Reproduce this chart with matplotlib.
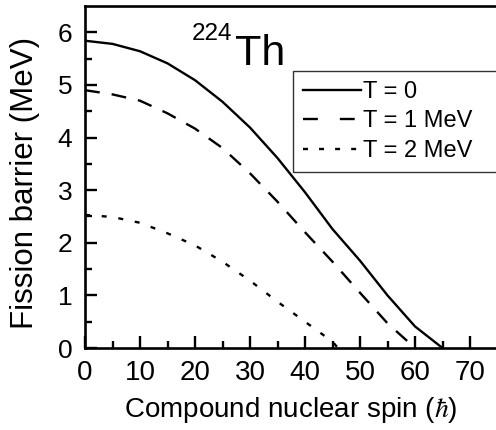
import matplotlib
matplotlib.use('Agg')
import matplotlib.pyplot as plt
from matplotlib.lines import Line2D

plt.rcParams['font.family'] = ['Liberation Sans', 'DejaVu Sans']
plt.rcParams['mathtext.fontset'] = 'stix'

# Fission barrier of 224Th vs compound nuclear spin
spin_t0 = [0, 5, 10, 15, 20, 25, 30, 35, 40, 45, 50, 55, 60, 65]
barrier_t0 = [5.84, 5.78, 5.64, 5.41, 5.09, 4.68, 4.19, 3.61, 2.96, 2.26, 1.66, 1.00, 0.41, 0.0]

spin_t1 = [0, 5, 10, 15, 20, 25, 30, 35, 40, 45, 50, 55, 60]
barrier_t1 = [4.90, 4.82, 4.70, 4.46, 4.17, 3.80, 3.32, 2.78, 2.20, 1.64, 1.05, 0.47, 0.0]

spin_t2 = [0, 5, 10, 15, 20, 25, 30, 35, 40, 45, 46]
barrier_t2 = [2.53, 2.49, 2.38, 2.18, 1.95, 1.64, 1.28, 0.88, 0.50, 0.12, 0.0]

labels = ['T = 0', 'T = 1 MeV', 'T = 2 MeV']

fig = plt.figure(figsize=(4.96, 4.30), dpi=100)
ax = fig.add_axes([85/496, 82/430, 412.5/496, 342/430])

lw = 1.7
ax.plot(spin_t0, barrier_t0, color='black', lw=lw)
ax.plot(spin_t1, barrier_t1, color='black', lw=lw, dashes=(6.3, 5.1))
ax.plot(spin_t2, barrier_t2, color='black', lw=lw, dashes=(2.1, 5.0))

ax.set_xlim(0, 75)
ax.set_ylim(0, 6.5)
ax.set_xticks(range(0, 80, 10))
ax.set_xticks(range(5, 80, 10), minor=True)
ax.set_yticks(range(0, 7))
ax.set_yticks([0.5 + i for i in range(6)], minor=True)

for s in ax.spines.values():
    s.set_linewidth(1.9)
ax.spines['right'].set_visible(False)

ax.tick_params(which='both', direction='in', width=1.7, top=False, right=False)
ax.tick_params(which='major', length=8.5)
ax.tick_params(which='minor', length=5)
ax.tick_params(axis='x', labelsize=20, pad=8.5)
ax.tick_params(axis='y', labelsize=19, pad=9)

ax.set_xlabel(r'Compound nuclear spin ($\hbar$)', fontsize=20)
ax.set_ylabel('Fission barrier (MeV)', fontsize=22.5)
ax.xaxis.set_label_coords(0.5, -0.137)
ax.yaxis.set_label_coords(-0.11, 0.484)

# nucleus label
ax.text(0.258, 0.9006, '224', fontsize=17.5, transform=ax.transAxes, ha='left', va='baseline')
ax.text(0.364, 0.8275, 'Th', fontsize=31, transform=ax.transAxes, ha='left', va='baseline')

handles = [
    Line2D([], [], color='black', lw=lw),
    Line2D([], [], color='black', lw=lw, dashes=(6.3, 9.3)),
    Line2D([], [], color='black', lw=lw, dashes=(2.1, 4.7)),
]
leg = ax.legend(handles, labels, loc='upper left',
                bbox_to_anchor=(292.7/496, 1 - 171/430, 215/496, 100/430),
                bbox_transform=fig.transFigure, mode='expand', fontsize=17,
                frameon=True, fancybox=False, handlelength=2.46, handletextpad=0.1,
                labelspacing=0.32, borderpad=0.42, borderaxespad=0)
leg.get_frame().set_edgecolor('black')
leg.get_frame().set_linewidth(1.0)

fig.savefig('out.png', dpi=100)
